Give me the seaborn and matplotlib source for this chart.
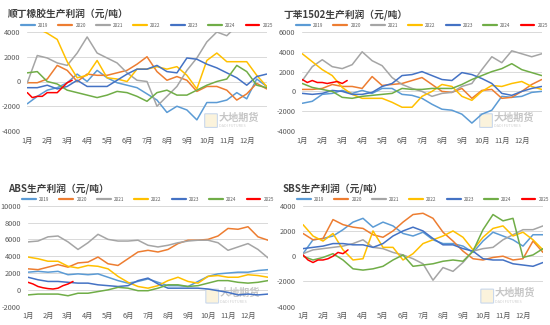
import numpy as np
import pandas as pd
import matplotlib
matplotlib.use("Agg")
import matplotlib.pyplot as plt
import seaborn as sns
from matplotlib.patches import FancyBboxPatch

years = ["2019", "2020", "2021", "2022", "2023", "2024", "2025"]
colors = ["#5B9BD5", "#ED7D31", "#A5A5A5", "#FFC000", "#4472C4", "#70AD47", "#FF0000"]
month_labels = [f"{i}月" for i in range(1, 13)]
half_months = np.arange(25) / 2      # date axis (months since 1 Jan), half-month samples
weeks_2025 = np.arange(10) / 4       # date axis for 2025, weekly samples

# ---------------- 顺丁橡胶 ----------------
br_2019 = [-1800, -1200, -700, -500, -100, 600, 0, 900, 300, -100, -300, -500, -1000,
           -1500, -2500, -2000, -2300, -3100, -1700, -1700, -1500, -900, -1400, 200, -400]
br_2020 = [-100, -100, 200, 1300, 900, 0, 600, 500, 500, 700, 900, 1400, 2000,
           800, 100, 400, 100, -800, -400, -400, -700, -1500, -1000, -150, -600]
br_2021 = [-100, 2100, 1900, 1500, 1300, 2300, 3600, 2300, 1900, 1500, 700, 100, 0,
           -2000, -1200, -400, 900, 1900, 3200, 4000, 3700, 4500, 5000, 5000, 5000]
br_2022 = [4600, 4300, 3900, 3400, 1600, 300, 500, 1700, 300, 200, 0, 1000, 1000,
           1200, 1000, 1200, 500, -600, 1700, 2300, 1600, 1600, 1600, 500, -400]
br_2023 = [-500, -500, -300, -600, -400, 100, -400, -400, -400, 100, 600, 1000, 1000,
           1300, 800, 700, 1900, 1800, 1400, 1100, 700, 300, -300, 400, 600]
br_2024 = [700, 800, 0, -200, -700, -900, -1100, -1300, -1100, -800, -900, -1200, -1600,
           -900, -700, -1100, -1100, -700, -300, 0, 200, 1300, 800, -300, -500]
br_2025 = [-900, -1300, -1200, -1200, -900, -900, -900, -500, -100, 100]

# ---------------- 丁苯1502 ----------------
sbr_2019 = [-1200, -1000, -300, -200, 100, -200, 100, -200, 300, 300, -300, -400, -700,
            -1300, -1800, -1900, -2300, -3200, -2300, -1900, -500, -600, -500, -100, 0]
sbr_2020 = [200, 200, 300, 700, 500, 500, 300, 1500, 600, 700, 800, 1100, 1400,
            700, 0, -100, 300, -700, 100, 200, -700, -600, 0, 700, 1200]
sbr_2021 = [1100, 2500, 3200, 2500, 2300, 2700, 4000, 3100, 2600, 1400, 700, 300, 0,
            -500, -200, -100, 500, 800, 2200, 3500, 2900, 4100, 3800, 3500, 3800]
sbr_2022 = [3800, 3000, 2200, 1600, 400, -300, -700, -700, -700, -1100, -1600, -1600, -500,
            0, 700, 500, -500, -900, 0, 600, 500, 800, 1000, 500, 200]
sbr_2023 = [-200, -300, -200, 100, 0, -300, -300, -100, 500, 800, 1600, 1700, 2000,
            1600, 1200, 1100, 1900, 1700, 1300, 800, -200, -400, 0, 300, 500]
sbr_2024 = [800, 400, 200, 0, -600, -700, -500, -400, -300, -200, 300, 200, 200,
            300, 300, 300, 700, 1200, 1600, 2000, 2300, 2800, 2200, 1900, 1600]
sbr_2025 = [1200, 900, 1100, 900, 900, 800, 900, 1000, 800, 1100]

# ---------------- ABS ----------------
abs_2019 = [2100, 2200, 2100, 2200, 1800, 1900, 1800, 1900, 1500, 1100, 800, 1000, 1300,
            900, 500, 500, 400, 1000, 1600, 1900, 2000, 2100, 2100, 2300, 2400]
abs_2020 = [2500, 2400, 2700, 3000, 2700, 3200, 3300, 3900, 3100, 2900, 3700, 4500, 4700,
            4500, 4800, 5500, 5900, 5900, 6000, 6400, 7300, 7200, 7500, 6300, 5900]
abs_2021 = [5700, 5800, 6300, 6400, 5700, 4800, 5600, 6600, 6000, 5800, 5800, 5900, 5300,
            5100, 5300, 5600, 5800, 5900, 5900, 5600, 4700, 5100, 5500, 4800, 3800]
abs_2022 = [3900, 3700, 3400, 3400, 2800, 2600, 2900, 2800, 2500, 1600, 900, 400, 200,
            500, 1100, 1500, 1000, 800, 1600, 1700, 1500, 1500, 1800, 1700, 1500]
abs_2023 = [1500, 1200, 1000, 1000, 900, 800, 800, 600, 500, 400, 500, 1100, 1400,
            700, 200, 200, 200, 200, 100, -100, -300, -600, -500, -600, -500]
abs_2024 = [-600, -500, -500, -500, -700, -400, -400, -200, 0, 300, 200, -100, -100,
            200, 600, 600, 400, 500, 800, 1100, 1100, 900, 800, 900, 1100]
abs_2025 = [900, 700, 400, 250, 150, 100, 200, 500, 700, 1000]

# ---------------- SBS ----------------
sbs_2019 = [200, 1300, 1400, 1600, 2100, 2700, 3000, 2300, 2700, 2400, 1800, 1600, 1900,
            1300, 1000, 1000, 800, 300, 1200, 1900, 1600, 1300, 800, 1700, 1700]
sbs_2020 = [1800, 1300, 1400, 2900, 2500, 2300, 2200, 1700, 1500, 2000, 2700, 3300, 3400,
            3000, 1900, 1200, 400, -200, -300, -100, 0, -300, -200, 1200, 300]
sbs_2021 = [200, 500, 600, 700, 800, 1000, 1300, 700, 600, 300, 100, -200, -600,
            -1900, -900, -1200, -500, 400, 600, 700, 1300, 1700, 2100, 2100, 2400]
sbs_2022 = [2500, 1600, 1200, 1800, 500, -300, -200, 2000, 700, 700, -300, 200, 1000,
            1300, 1600, 2000, 1500, 500, 1500, 2200, 2400, 1600, 1900, 1300, 500]
sbs_2023 = [600, 700, 800, 1000, 1000, 900, 900, 700, 1000, 1600, 2000, 2300, 2000,
            1400, 900, 900, 600, 400, -200, -300, -300, -600, -700, -800, -500]
sbs_2024 = [0, -300, -100, 200, -300, -1000, -1100, -1000, -800, -300, 100, -800, -700,
            -600, -400, -300, -400, 400, 2100, 3300, 2800, 3000, -100, 100, 600]
sbs_2025 = [100, -300, -500, -300, -300, -200, 0, 300, 200, 500]

panels = [
    ("顺丁橡胶生产利润（元/吨）", [br_2019, br_2020, br_2021, br_2022, br_2023, br_2024, br_2025],
     (-4000, 4000), [-4000, -2000, 0, 2000, 4000]),
    ("丁苯1502生产利润（元/吨）", [sbr_2019, sbr_2020, sbr_2021, sbr_2022, sbr_2023, sbr_2024, sbr_2025],
     (-4000, 6000), [-4000, -2000, 0, 2000, 4000, 6000]),
    ("ABS生产利润（元/吨）", [abs_2019, abs_2020, abs_2021, abs_2022, abs_2023, abs_2024, abs_2025],
     (-2000, 10000), [-2000, 0, 2000, 4000, 6000, 8000, 10000]),
    ("SBS生产利润（元/吨）", [sbs_2019, sbs_2020, sbs_2021, sbs_2022, sbs_2023, sbs_2024, sbs_2025],
     (-4000, 4000), [-4000, -2000, 0, 2000, 4000]),
]

sns.set_theme(style="white")
plt.rcParams["font.family"] = ["Noto Sans CJK SC", "DejaVu Sans"]
plt.rcParams["axes.unicode_minus"] = False

fig = plt.figure(figsize=(5.5, 3.25), dpi=100)
W, H = 550, 325
# (panel origin x, left, bottom, width, height) in pixels
rects = [
    (0, 27.3, 131.0, 239.4, 99.0),
    (275, 302.3, 131.0, 239.4, 99.0),
    (0, 28.0, 306.7, 240.0, 101.0),
    (275, 303.0, 306.7, 240.0, 101.0),
]

for (title, series, ylim, yticks), (ox, lx, by, w, h) in zip(panels, rects):
    ax = fig.add_axes([lx / W, (H - by) / H, w / W, h / H])
    frames = []
    for yr, vals in zip(years, series):
        xs = weeks_2025 if yr == "2025" else half_months
        frames.append(pd.DataFrame({"month": xs, "value": vals, "year": yr}))
    df = pd.concat(frames, ignore_index=True)
    sns.lineplot(data=df, x="month", y="value", hue="year", hue_order=years,
                 palette=colors, estimator=None, sort=False, linewidth=1.1, ax=ax)
    ax.set_xlim(0, 12)
    ax.set_ylim(*ylim)
    ax.set_yticks(yticks)
    ax.set_yticklabels([str(t) for t in yticks])
    ax.set_xticks(np.arange(12))
    ax.set_xticklabels(month_labels)
    ax.set_xlabel("")
    ax.set_ylabel("")
    for s in ax.spines.values():
        s.set_visible(False)
    ax.grid(axis="y", color="#d9d9d9", linewidth=0.7)
    ax.grid(axis="x", visible=False)
    ax.tick_params(axis="both", length=0, labelsize=5.3, colors="#595959")
    ax.tick_params(axis="y", pad=5)
    ax.tick_params(axis="x", pad=4)

    handles, labels = ax.get_legend_handles_labels()
    leg = ax.legend(handles, labels, ncol=7, loc="center",
                    bbox_to_anchor=(0.5, 1 + 6.5 / h), fontsize=3.3, frameon=False,
                    handlelength=3.0, handletextpad=0.7, columnspacing=2.2,
                    borderaxespad=0, borderpad=0)
    for line in leg.get_lines():
        line.set_linewidth(1.6)
    for t in leg.get_texts():
        t.set_color("#595959")

    ax.text((ox + 8 - lx) / w, 1 + 17.5 / h, title, transform=ax.transAxes,
            ha="left", va="center", fontsize=7, fontweight="bold", color="#404040")

    # watermark
    ax.add_patch(FancyBboxPatch((0.745, 0.04), 0.045, 0.13,
                                boxstyle="round,pad=0.004", transform=ax.transAxes,
                                facecolor="#fbf3dc", edgecolor="#c9d8ec", linewidth=0.8,
                                zorder=1))
    ax.text(0.80, 0.135, "大地期货", transform=ax.transAxes, ha="left", va="center",
            fontsize=7.3, color="#c6c6c6", fontweight="bold", zorder=1)
    ax.text(0.80, 0.05, "DADI FUTURES", transform=ax.transAxes, ha="left", va="center",
            fontsize=2.8, color="#cfcfcf", zorder=1)

fig.savefig("out.png", dpi=100)
